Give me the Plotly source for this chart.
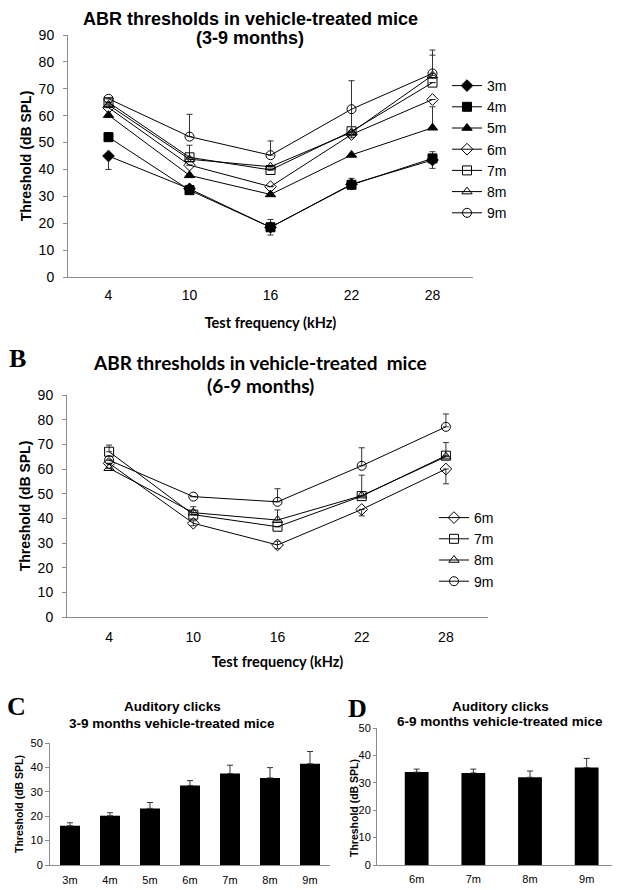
import plotly.graph_objects as go

# ---- panel A / B : ABR thresholds by test frequency ----
freqs = ["4", "10", "16", "22", "28"]

a_3m = [45, 32.8, 18.5, 34.5, 43.5]
a_4m = [52, 32.3, 18.5, 34.3, 44.1]
a_5m = [60.2, 37.8, 30.7, 45.4, 55.5]
a_6m = [63, 41.6, 33.6, 53, 66]
a_7m = [65, 44.5, 39.8, 54.2, 72.3]
a_8m = [64, 43.8, 41, 53.8, 75]
a_9m = [66.3, 52.2, 45.3, 62.4, 75.7]

a_3m_up = [None, None, 2.9, 2.2, 3.1]
a_3m_dn = [5, None, 2.9, None, 3.1]
a_4m_up = [1.7, None, None, None, None]
a_5m_up = [None, None, None, None, 7.8]
a_7m_up = [None, 4.5, None, None, None]
a_8m_up = [None, None, None, None, 7.5]
a_9m_up = [None, 8.3, 5.3, 10.6, 8.7]
a_9m_dn = [None, None, None, 10.6, None]

b_6m = [62.3, 38, 29.2, 43.6, 60]
b_7m = [67, 41.5, 36.6, 49, 65.4]
b_8m = [60.3, 42.3, 39.3, 49.2, 65]
b_9m = [63.6, 48.8, 46.7, 61.3, 77.1]

b_6m_up = [None, 1, 1.5, None, None]
b_6m_dn = [None, 1, 1.5, 2.6, 6]
b_7m_up = [2.7, None, None, None, 5.3]
b_8m_up = [None, 2.4, 4.1, 8.3, None]
b_9m_up = [None, None, 5.3, 7.3, 5.2]

# ---- panel C / D : auditory clicks ----
c_ages = ["3m", "4m", "5m", "6m", "7m", "8m", "9m"]
c_vals = [16.1, 20.2, 23.2, 32.6, 37.5, 35.7, 41.5]
c_err = [1.2, 1.2, 2.4, 2, 3.4, 4.2, 5]

d_ages = ["6m", "7m", "8m", "9m"]
d_vals = [33.9, 33.6, 32, 35.6]
d_err = [1.1, 1.4, 2.3, 3.3]

W, H = 620, 890
PAGE_OFF = 8  # body margin of the html page
ARIAL = "Liberation Sans, Arial, sans-serif"
CALI = "Lato, Calibri, sans-serif"
SERIF = "Liberation Serif, Times New Roman, serif"
AX = "#8c8c8c"


def px(x):
    return (x - PAGE_OFF) / W


def py(y):
    return 1 - (y - PAGE_OFF) / H


def err(up, dn=None):
    if dn is None:
        dn = [None] * len(up)
    return dict(type="data", symmetric=False, array=up, arrayminus=dn,
                color="#333", thickness=1, width=3)


fig = go.Figure()

series_a = [
    ("3m", a_3m, "diamond", a_3m_up, a_3m_dn),
    ("4m", a_4m, "square", a_4m_up, None),
    ("5m", a_5m, "triangle-up", a_5m_up, None),
    ("6m", a_6m, "diamond-open", [None] * 5, None),
    ("7m", a_7m, "square-open", a_7m_up, None),
    ("8m", a_8m, "triangle-up-open", a_8m_up, None),
    ("9m", a_9m, "circle-open", a_9m_up, a_9m_dn),
]
for name, vals, sym, up, dn in series_a:
    fig.add_trace(go.Scatter(
        x=freqs, y=vals, name=name, mode="lines+markers",
        line=dict(color="black", width=1),
        marker=dict(symbol=sym, size=9, color="black", line=dict(color="black", width=1)),
        error_y=err(up, dn), xaxis="x", yaxis="y", legend="legend"))

series_b = [
    ("6m", b_6m, "diamond-open", b_6m_up, b_6m_dn),
    ("7m", b_7m, "square-open", b_7m_up, None),
    ("8m", b_8m, "triangle-up-open", b_8m_up, None),
    ("9m", b_9m, "circle-open", b_9m_up, None),
]
for name, vals, sym, up, dn in series_b:
    fig.add_trace(go.Scatter(
        x=freqs, y=vals, name=name, mode="lines+markers",
        line=dict(color="black", width=1),
        marker=dict(symbol=sym, size=9, color="black", line=dict(color="black", width=1)),
        error_y=err(up, dn), xaxis="x2", yaxis="y2", legend="legend2"))

fig.add_trace(go.Bar(
    x=c_ages, y=c_vals, width=0.5, marker=dict(color="black", line=dict(width=0)),
    error_y=dict(type="data", array=c_err, symmetric=False, arrayminus=[0] * 7,
                 color="#333", thickness=1, width=3),
    xaxis="x3", yaxis="y3", showlegend=False))

fig.add_trace(go.Bar(
    x=d_ages, y=d_vals, width=0.42, marker=dict(color="black", line=dict(width=0)),
    error_y=dict(type="data", array=d_err, symmetric=False, arrayminus=[0] * 4,
                 color="#333", thickness=1, width=3),
    xaxis="x4", yaxis="y4", showlegend=False))

xbase = dict(showgrid=False, zeroline=False, showline=True, linecolor=AX, linewidth=1,
             ticks="", type="category", automargin=False)
ybase = dict(showgrid=False, zeroline=False, showline=True, linecolor=AX, linewidth=1,
             ticks="outside", ticklen=4, tickcolor=AX, automargin=False)

fig.update_layout(
    width=W, height=H, margin=dict(l=0, r=0, t=0, b=0, autoexpand=False),
    paper_bgcolor="white", plot_bgcolor="white",
    font=dict(family=ARIAL, color="black"),
    xaxis=dict(xbase, domain=[px(68), px(473)], anchor="y", range=[-0.5, 4.5],
               tickfont=dict(size=14, family=ARIAL), ticklabelstandoff=5,
               title=dict(text="<b>Test frequency (kHz)</b>", font=dict(size=14.5, family=CALI), standoff=16)),
    yaxis=dict(ybase, domain=[py(277), py(35)], anchor="x", range=[0, 90], dtick=10,
               tickfont=dict(size=14, family=ARIAL), ticklabelstandoff=6,
               title=dict(text="<b>Threshold (dB SPL)</b>", font=dict(size=14, family=ARIAL), standoff=3)),
    xaxis2=dict(xbase, domain=[px(67), px(488)], anchor="y2", range=[-0.5, 4.5],
                tickfont=dict(size=14, family=ARIAL), ticklabelstandoff=7,
                title=dict(text="<b>Test frequency (kHz)</b>", font=dict(size=14.5, family=CALI), standoff=13)),
    yaxis2=dict(ybase, domain=[py(617), py(395)], anchor="x2", range=[0, 90], dtick=10,
                tickfont=dict(size=14, family=ARIAL), ticklabelstandoff=6,
                title=dict(text="<b>Threshold (dB SPL)</b>", font=dict(size=14, family=ARIAL), standoff=3)),
    xaxis3=dict(xbase, domain=[px(50), px(330)], anchor="y3", range=[-0.5, 6.5],
                tickfont=dict(size=11, family=ARIAL), ticklabelstandoff=5),
    yaxis3=dict(ybase, domain=[py(865), py(743)], anchor="x3", range=[0, 50], dtick=10,
                tickfont=dict(size=11, family=ARIAL),
                title=dict(text="<b>Threshold (dB SPL)</b>", font=dict(size=10.5, family=ARIAL), standoff=4)),
    xaxis4=dict(xbase, domain=[px(377), px(615)], anchor="y4", range=[-0.7, 3.5],
                tickfont=dict(size=11, family=ARIAL), ticklabelstandoff=4),
    yaxis4=dict(ybase, domain=[py(865), py(728)], anchor="x4", range=[0, 50], dtick=10,
                ticklen=3, tickfont=dict(size=11, family=ARIAL), ticklabelstandoff=0),
    legend=dict(x=px(447), y=py(70), xanchor="left", yanchor="top",
                font=dict(size=14, family=ARIAL), bgcolor="rgba(0,0,0,0)",
                itemwidth=30, tracegroupgap=0),
    legend2=dict(x=px(434), y=py(502), xanchor="left", yanchor="top",
                 font=dict(size=14, family=ARIAL), bgcolor="rgba(0,0,0,0)",
                 itemwidth=30, tracegroupgap=0),
    bargap=0.5,
)

annos = [
    dict(x=px(250), y=py(19), text="<b>ABR thresholds in vehicle-treated mice</b>",
         font=dict(size=18, family=ARIAL)),
    dict(x=px(250), y=py(38), text="<b>(3-9 months)</b>", font=dict(size=18, family=ARIAL)),
    dict(x=px(17), y=py(358), text="<b>B</b>", font=dict(size=26, family=SERIF)),
    dict(x=px(260), y=py(362), text="<b>ABR thresholds in vehicle-treated  mice</b>",
         font=dict(size=19, family=CALI)),
    dict(x=px(260), y=py(385), text="<b>(6-9 months)</b>", font=dict(size=19, family=CALI)),
    dict(x=px(16), y=py(706), text="<b>C</b>", font=dict(size=26, family=SERIF)),
    dict(x=px(172), y=py(706), text="<b>Auditory clicks</b>", font=dict(size=13.5, family=ARIAL)),
    dict(x=px(172), y=py(723), text="<b>3-9 months vehicle-treated mice</b>",
         font=dict(size=13.5, family=ARIAL)),
    dict(x=px(357), y=py(708), text="<b>D</b>", font=dict(size=26, family=SERIF)),
    dict(x=px(500), y=py(706), text="<b>Auditory clicks</b>", font=dict(size=13.5, family=ARIAL)),
    dict(x=px(500), y=py(721), text="<b>6-9 months vehicle-treated mice</b>",
         font=dict(size=13.5, family=ARIAL)),
    dict(x=px(354), y=py(808), text="<b>Threshold (dB SPL)</b>", textangle=-90,
         font=dict(size=10.5, family=ARIAL)),
]
for a in annos:
    fig.add_annotation(xref="paper", yref="paper", showarrow=False, borderpad=0,
                       xanchor="center", yanchor="middle", **a)

fig.write_html("out.html")
